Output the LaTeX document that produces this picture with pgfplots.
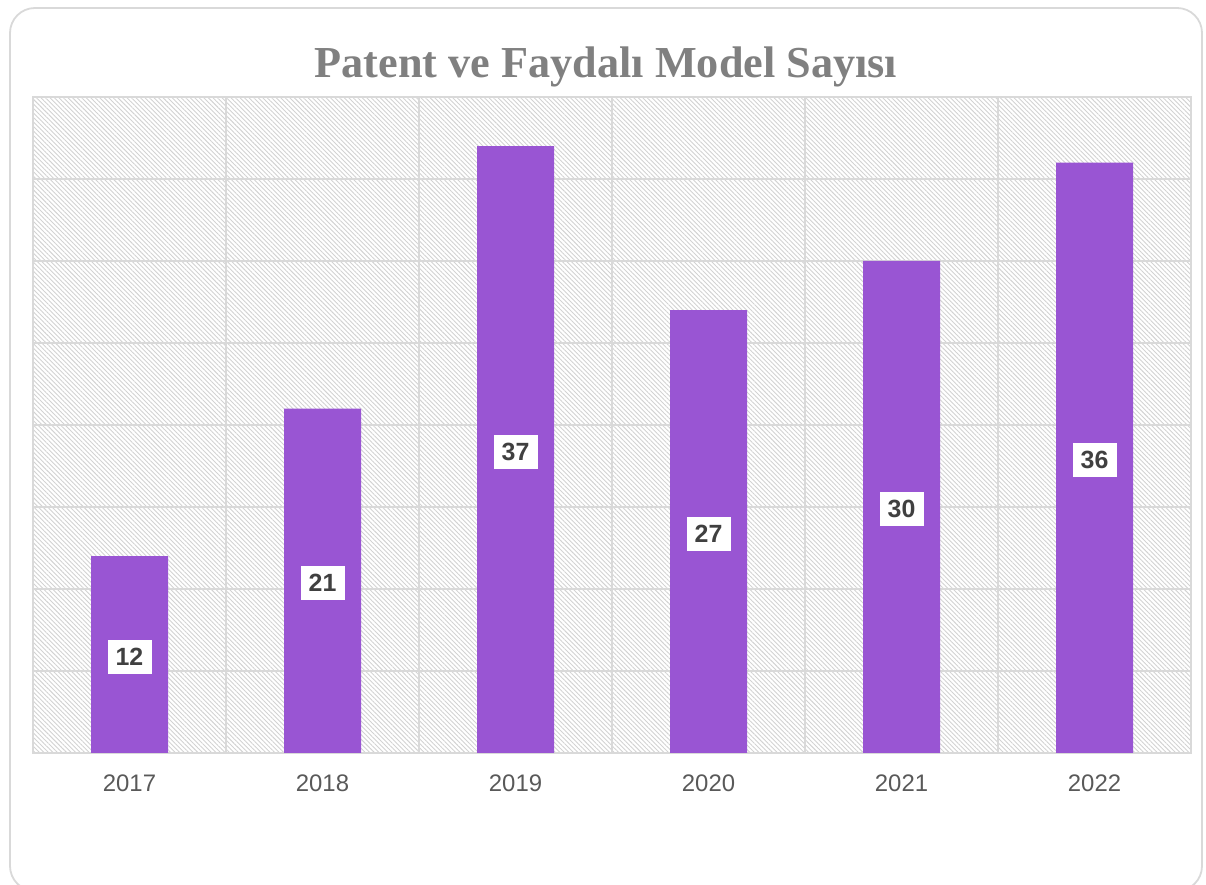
\documentclass[border=0pt]{standalone}
\usepackage{pgfplots}
\usepackage{pgfplotstable}
\pgfplotsset{compat=1.18}
\usepackage{fontspec}
\setmainfont{Liberation Sans}
\newfontfamily\titlefont{Liberation Serif}
\usetikzlibrary{patterns.meta}
\definecolor{barpurple}{RGB}{153,85,211}
\definecolor{gridgray}{RGB}{217,217,217}
\definecolor{hatchgray}{RGB}{210,210,210}
\definecolor{ticktext}{RGB}{89,89,89}
\definecolor{labeltext}{RGB}{64,64,64}
\definecolor{titlegray}{RGB}{128,128,128}
\pgfplotstableread{
x v
0 12
1 21
2 37
3 27
4 30
5 36
}\datatable
\begin{document}
\begin{tikzpicture}[x=1bp,y=1bp]
\useasboundingbox (0,0) rectangle (603,442.5);
\draw[gridgray, line width=0.9bp, rounded corners=12.5bp] (5,-3) rectangle (601,438.5);
\node[font=\titlefont\bfseries\fontsize{22.2}{26}\selectfont, text=titlegray] at (303,409) {Patent ve Faydalı Model Sayısı};
\begin{axis}[
  at={(16.5bp,66bp)}, anchor=south west,
  scale only axis, width=579bp, height=328bp,
  xmin=-0.5, xmax=5.5, ymin=0, ymax=40,
  xtick={0,1,2,3,4,5},
  xticklabels={2017,2018,2019,2020,2021,2022},
  minor xtick={0.5,1.5,2.5,3.5,4.5},
  ytick={0,5,...,40}, yticklabels={},
  xmajorgrids=false, xminorgrids=true, ymajorgrids=true,
  grid style={gridgray, line width=0.75bp},
  minor grid style={gridgray, line width=0.75bp},
  axis line style={gridgray, line width=0.75bp},
  major tick length=0pt, minor tick length=0pt,
  tick style={draw=none},
  xticklabel style={font=\fontsize{12}{14}\selectfont, text=ticktext, yshift=-7.5bp},
  /pgf/number format/assume math mode=true,
  axis background/.style={pattern={Lines[angle=-45, distance=1.6bp, line width=0.45bp]}, pattern color=hatchgray},
  axis on top=false,
  clip=false,
]
\addplot[ybar, bar width=38.5bp, fill=barpurple, draw=none] table[x=x, y=v] {\datatable};
\addplot[draw=none, mark=none, nodes near coords, point meta=explicit,
  every node near coord/.append style={anchor=center, fill=white, inner sep=0pt,
    minimum width=22bp, minimum height=17bp, text=labeltext, yshift=-1.2bp,
    font=\bfseries\fontsize{12.5}{14}\selectfont}]
  table[x=x, y expr=\thisrow{v}/2, meta=v] {\datatable};
\end{axis}
\end{tikzpicture}
\end{document}
